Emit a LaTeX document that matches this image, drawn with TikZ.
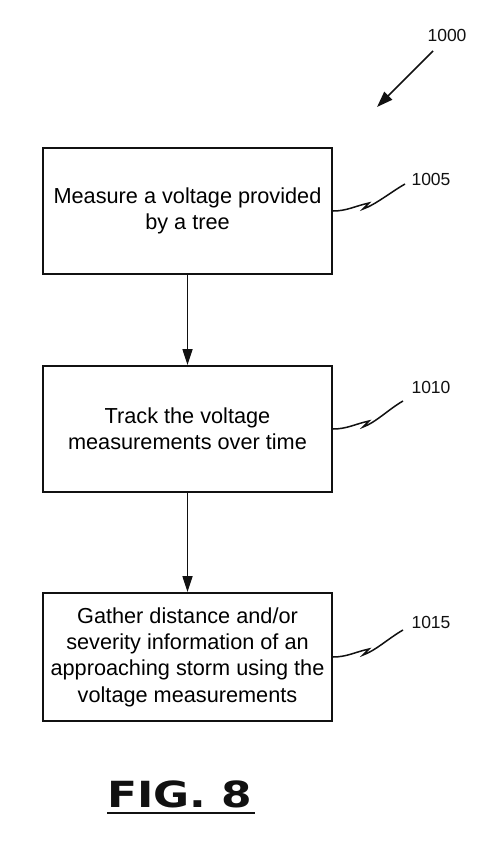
\documentclass[tikz,border=0pt]{standalone}
\usepackage{fontspec}
\setmainfont{Liberation Sans}
\newfontfamily\figfont{DejaVu Sans}[FakeStretch=1.22]
\usetikzlibrary{arrows.meta}
\definecolor{ink}{HTML}{111111}
\tikzset{
  stepbox/.style={draw=ink, line width=2pt, minimum width=289pt, align=center,
                  font=\fontsize{21.7}{26.3}\selectfont},
  flow/.style={ink, line width=1.7pt, -{Triangle[length=16pt, width=10pt]}},
  leadline/.style={ink, line width=1.5pt},
  reflabel/.style={ink, font=\fontsize{17.5}{20}\selectfont}
}

\begin{document}
\begin{tikzpicture}[x=1pt, y=-1pt]
  \useasboundingbox (0,0) rectangle (500,851);

  % the three steps, top to bottom
  \node[stepbox, minimum height=126pt] (m1005) at (187.5,211)
        {Measure a voltage provided\\ by a tree};
  \node[stepbox, minimum height=126pt] (m1010) at (187.5,429)
        {Track the voltage\\ measurements over time};
  \node[stepbox, minimum height=128pt] (m1015) at (187.5,657)
        {Gather distance and/or\\ severity information of an\\ approaching storm using the\\ voltage measurements};

  % flow arrows
  \draw[flow] (m1005) -- (m1010);
  \draw[flow] (m1010) -- (m1015);

  % overall reference 1000
  \node[reflabel] (r1000) at (447,35){1000};
  \coordinate (s1000) at (433,51);
  \coordinate (t1000) at (377,107);
  \draw[ink, line width=1.7pt, -{Triangle[length=16pt, width=11pt]}] (s1000) -- (t1000);

  % step numerals with squiggle leads
  \node[reflabel] (r1005) at (431,179){1005};
  \coordinate (e1005) at (405,184);
  \draw[leadline] (m1005.east) .. controls +(14,0) and +(-14,3) .. ++(36,-8)
     -- ++(-6,6) .. controls +(12,-4) and +(-14,8) .. (e1005);

  \node[reflabel] (r1010) at (431,387){1010};
  \coordinate (e1010) at (403,401);
  \draw[leadline] (m1010.east) .. controls +(14,0) and +(-14,3) .. ++(36,-8)
     -- ++(-6,6) .. controls +(12,-4) and +(-14,8) .. (e1010);

  \node[reflabel] (r1015) at (431,622){1015};
  \coordinate (e1015) at (403,630);
  \draw[leadline] (m1015.east) .. controls +(14,0) and +(-14,3) .. ++(36,-8)
     -- ++(-6,6) .. controls +(12,-4) and +(-14,8) .. (e1015);

  % figure caption, underlined
  \node[ink, inner sep=0pt, font=\figfont\bfseries\fontsize{36}{40}\selectfont] (fig) at (180,794){FIG. 8};
  \draw[ink, line width=2.5pt] ([yshift=-5pt]fig.south west) -- ([yshift=-5pt,xshift=2pt]fig.south east);
\end{tikzpicture}
\end{document}
